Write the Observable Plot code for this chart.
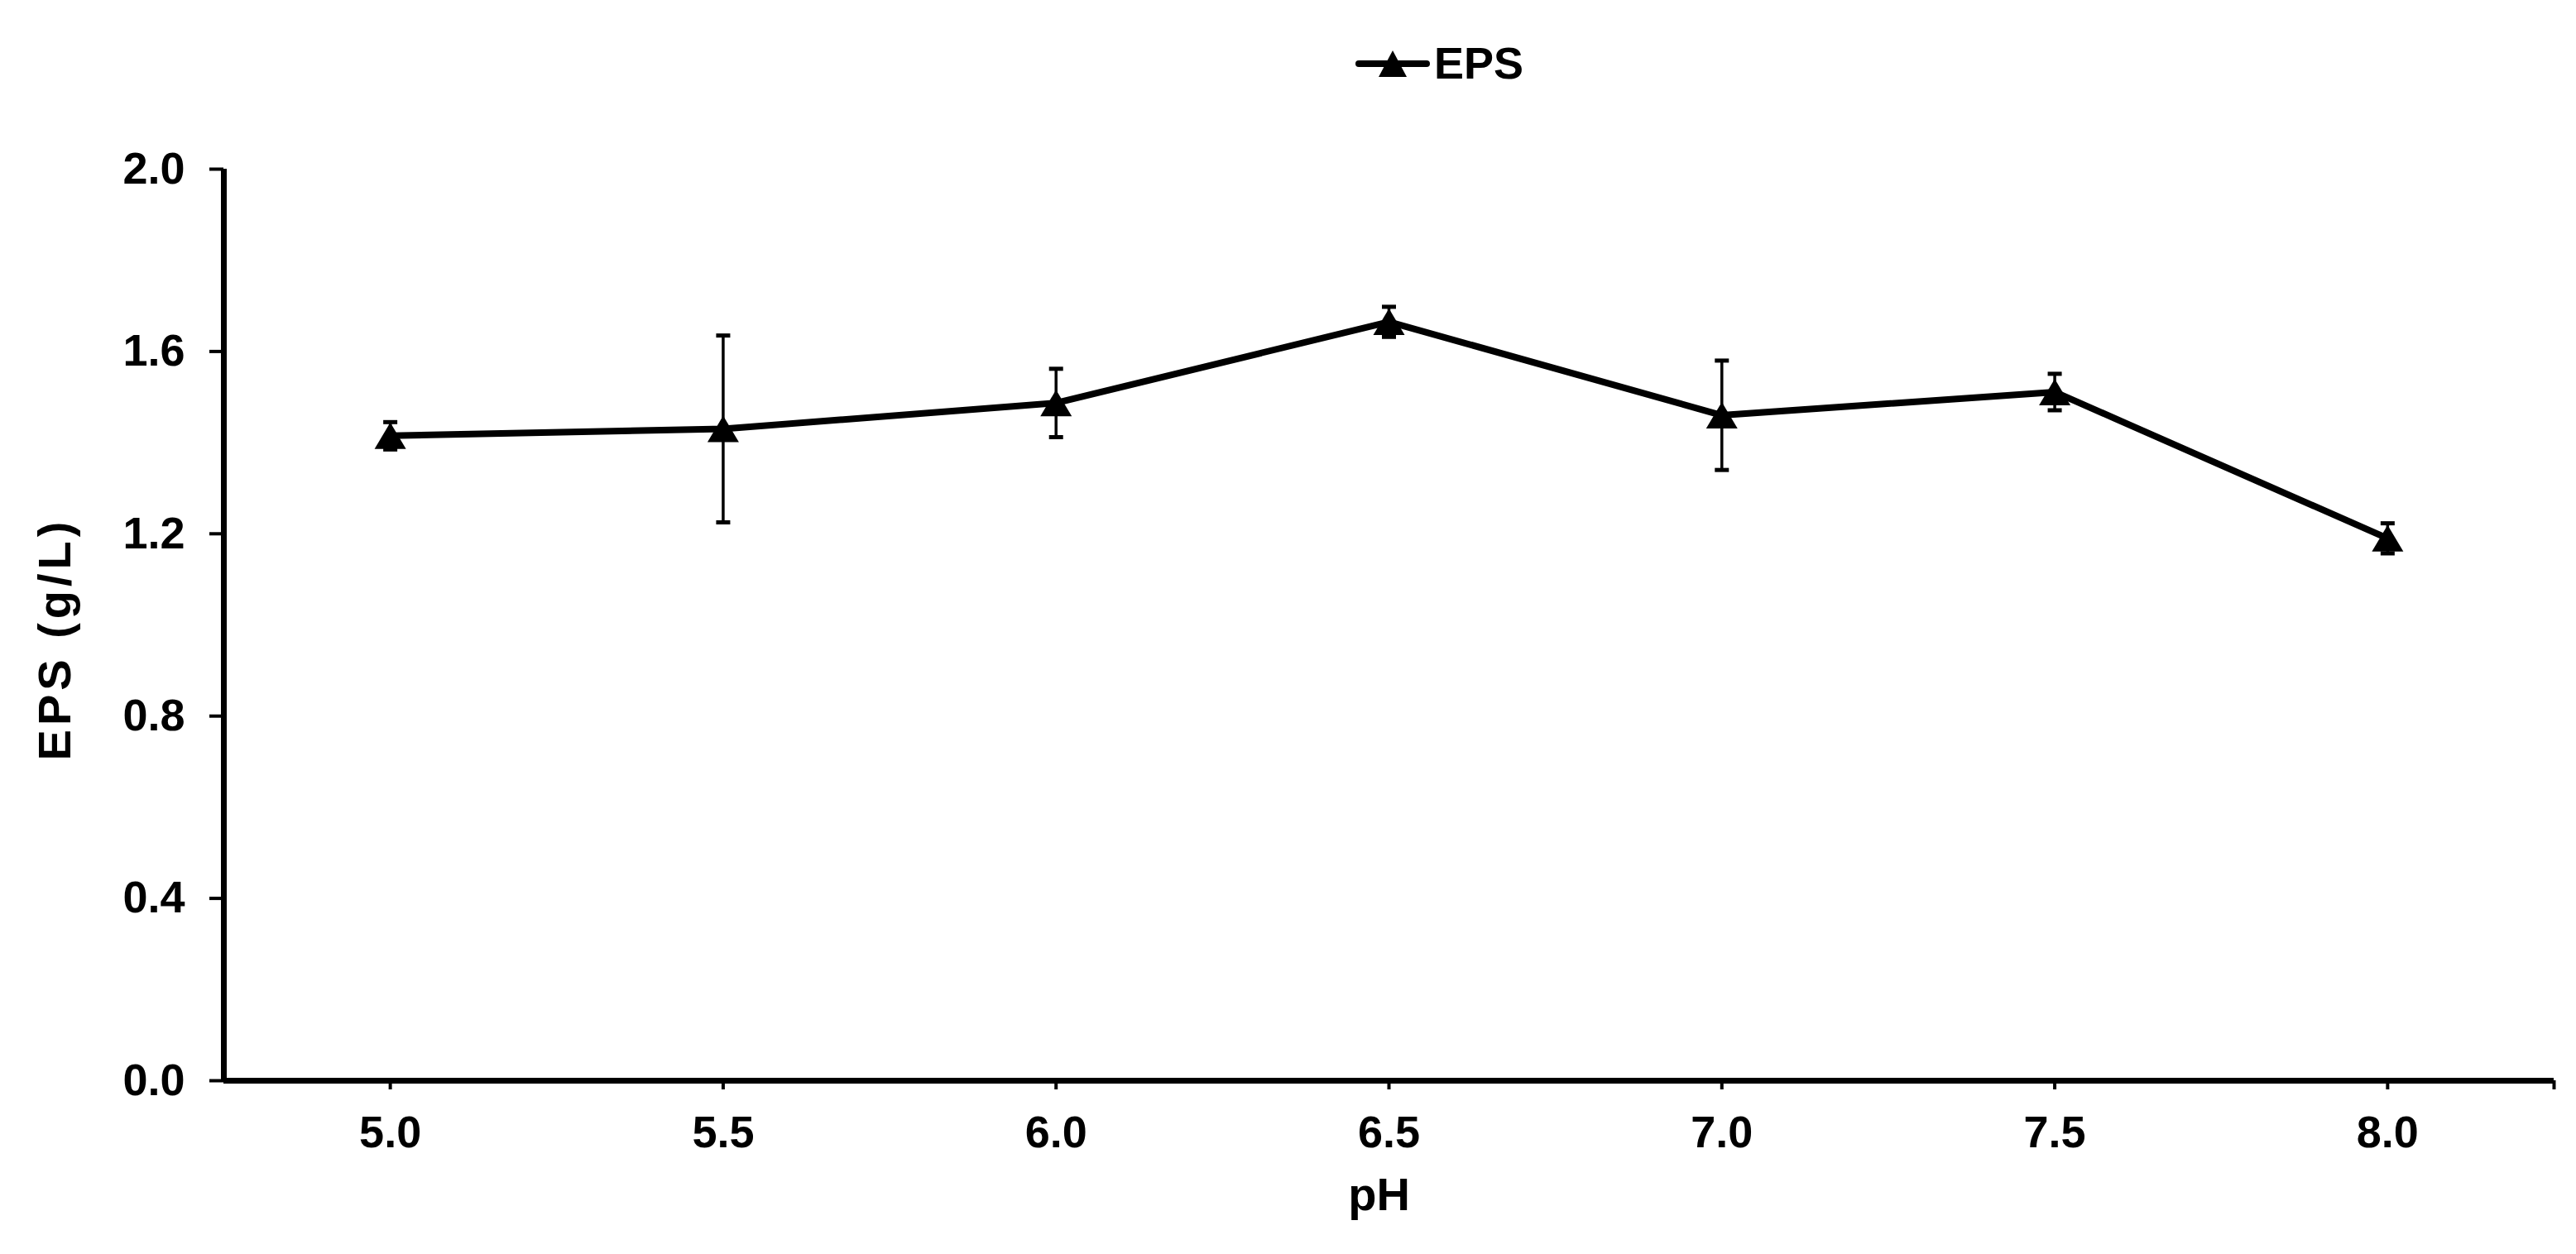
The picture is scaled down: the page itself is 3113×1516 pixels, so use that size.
<!DOCTYPE html>
<html><head><meta charset="utf-8">
<script src="https://cdn.jsdelivr.net/npm/d3@7"></script>
<script src="https://cdn.jsdelivr.net/npm/@observablehq/plot@0.6"></script>
<style>
html,body{margin:0;padding:0;background:#fff;}
#wrap{position:relative;width:3113px;height:1516px;background:#fff;font-family:"Liberation Sans",Arial,sans-serif;}
#legend{position:absolute;left:0;top:0;}
#chart{position:absolute;left:0;top:130px;}
</style></head><body>
<div id="wrap">
<svg id="legend" width="3113" height="130">
  <line x1="1642" x2="1724" y1="77" y2="77" stroke="#000" stroke-width="8" stroke-linecap="round"/>
  <polygon points="1683,61 1700,93 1666,93" fill="#000"/>
  <text x="1733" y="95" font-family="Liberation Sans, Arial, sans-serif" font-weight="bold" font-size="54" fill="#000">EPS</text>
</svg>
<div id="chart"></div>
</div>
<script>
// Data
const pH = [5.0, 5.5, 6.0, 6.5, 7.0, 7.5, 8.0];
const eps = [1.415, 1.43, 1.487, 1.665, 1.46, 1.511, 1.19];
const err = [0.03, 0.205, 0.075, 0.033, 0.12, 0.04, 0.033];
const xTicks = [5.0, 5.5, 6.0, 6.5, 7.0, 7.5, 8.0];
const yTicks = [0, 0.4, 0.8, 1.2, 1.6, 2.0];
const xDomain = [4.75, 8.25];
const yDomain = [0, 2.0];
const yLabel = "EPS (g/L)";
const xLabel = "pH";

const data = pH.map((p, i) => ({pH: p, eps: eps[i], lo: eps[i] - err[i], hi: eps[i] + err[i]}));

const triangle = {draw(ctx) { const w = 38, h = 32; ctx.moveTo(0, -h/2); ctx.lineTo(w/2, h/2); ctx.lineTo(-w/2, h/2); ctx.closePath(); }};
const cap = {draw(ctx) { ctx.rect(-8.5, -2.5, 17, 5); }};

const fmt = d3.format(".1f");
const font = "Liberation Sans, Arial, sans-serif";

const chart = Plot.plot({
  width: 3113,
  height: 1386,
  marginTop: 74,
  marginBottom: 210,
  marginLeft: 270,
  marginRight: 27,
  style: {fontFamily: font, fontWeight: "bold", fontSize: "54px", color: "#000", background: "#fff"},
  x: {domain: xDomain, label: null},
  y: {domain: yDomain, label: null},
  marks: [
    Plot.axisY({ticks: yTicks, tickFormat: fmt, tickSize: 17, tickPadding: 30, strokeWidth: 4, fontSize: 54, fontWeight: "bold", label: null}),
    Plot.axisX({ticks: xTicks, tickFormat: fmt, tickSize: 11, tickPadding: 31, strokeWidth: 4, fontSize: 54, fontWeight: "bold", label: null}),
    Plot.axisX({ticks: [xDomain[1]], tickFormat: () => "", tickSize: 11, strokeWidth: 4, label: null}),
    Plot.ruleY([yDomain[0]], {strokeWidth: 7, stroke: "#000"}),
    Plot.ruleX([xDomain[0]], {strokeWidth: 7, stroke: "#000"}),
    Plot.ruleX(data, {x: "pH", y1: "lo", y2: "hi", strokeWidth: 3.5, stroke: "#000"}),
    Plot.dot(data, {x: "pH", y: "hi", symbol: cap, fill: "#000", stroke: null}),
    Plot.dot(data, {x: "pH", y: "lo", symbol: cap, fill: "#000", stroke: null}),
    Plot.line(data, {x: "pH", y: "eps", stroke: "#000", strokeWidth: 8}),
    Plot.dot(data, {x: "pH", y: "eps", symbol: triangle, fill: "#000", stroke: null}),
    Plot.text([yLabel], {frameAnchor: "left", textAnchor: "middle", rotate: -90, dx: -203, dy: 17, fontSize: 56, fontWeight: "bold", fill: "#000"}),
    Plot.text([xLabel], {frameAnchor: "bottom", lineAnchor: "bottom", dx: -12, dy: 156, fontSize: 56, fontWeight: "bold", fill: "#000"})
  ]
});
d3.select(chart).selectAll("text").filter(function() { return this.textContent === yLabel; })
  .style("letter-spacing", "5px");
document.getElementById("chart").appendChild(chart);
</script>
</body></html>
